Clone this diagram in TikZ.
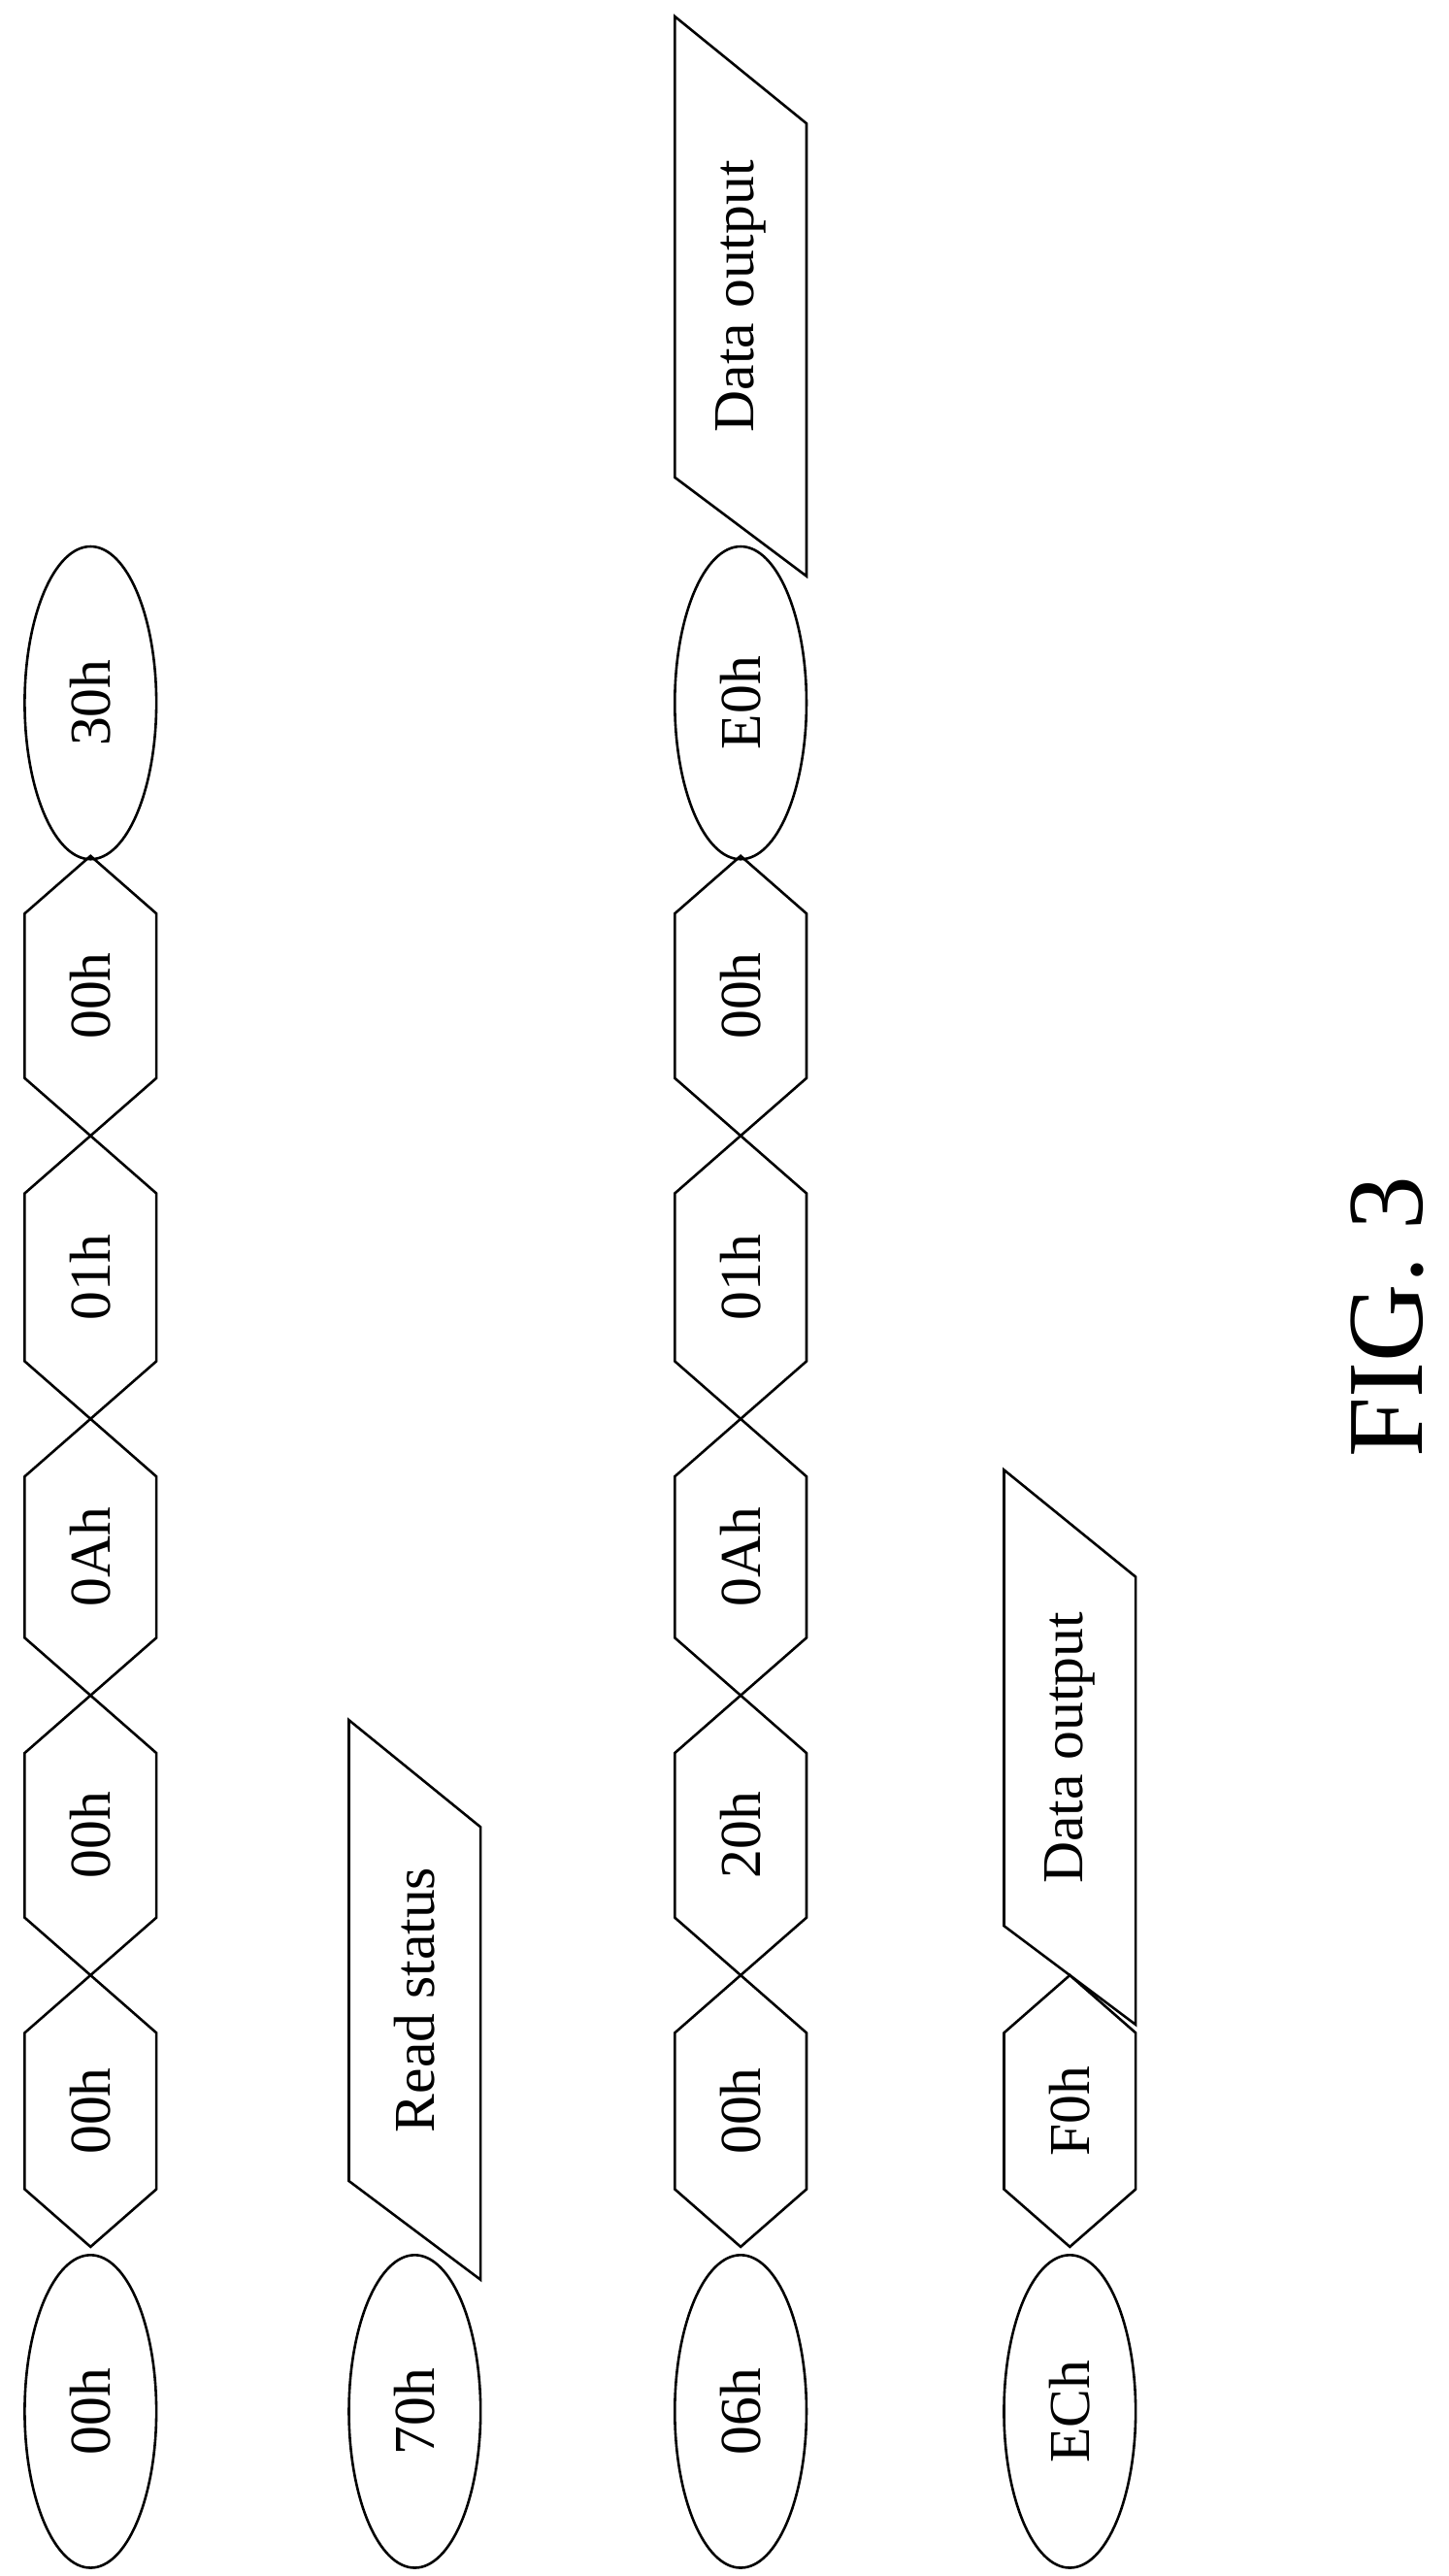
\documentclass[tikz,border=0pt]{standalone}
\usepackage{fontspec}
\setmainfont{Liberation Serif}
\usetikzlibrary{shapes.geometric}
\tikzset{
  cmd/.style={ellipse,draw,line width=1.3pt,rotate=90,minimum width=5.7cm,minimum height=2.4cm,inner sep=0pt,font=\fontsize{30}{36}\selectfont},
  lbl/.style={rotate=90,inner sep=0pt,font=\fontsize{30}{36}\selectfont},
  box/.style={line width=1.3pt},
}
\begin{document}
\begin{tikzpicture}[x=0.03cm,y=-0.03cm]
    \useasboundingbox (0,0) rectangle (880,1565);

    % Ellipses
    \node[cmd] (c00) at (55,1465)  {00h};
    \node[cmd] (c30) at (55,427)   {30h};
    \node[cmd] (c70) at (252,1465) {70h};
    \node[cmd] (c06) at (450,1465) {06h};
    \node[cmd] (cE0) at (450,427)  {E0h};
    \node[cmd] (cEC) at (650,1465) {ECh};

    % Hexagons (x centre, bottom point, top point, label)
    \foreach \cx/\yb/\yt/\txt/\nm in {55/1365/1200/00h/a1,55/1200/1030/00h/a2,55/1030/862/0Ah/a3,55/862/690/01h/a4,55/690/520/00h/a5,
        450/1365/1200/00h/b1,450/1200/1030/20h/b2,450/1030/862/0Ah/b3,450/862/690/01h/b4,450/690/520/00h/b5,
        650/1365/1200/F0h/d1}{
      \draw[box] (\cx,\yb) -- (\cx-40,\yb-35) -- (\cx-40,\yt+35) -- (\cx,\yt)
                 -- (\cx+40,\yt+35) -- (\cx+40,\yb-35) -- cycle;
      \node[lbl] (\nm) at (\cx,{(\yb+\yt)/2}) {\txt};
    }

    % Parallelograms
    \draw[box] (212,1045) -- (292,1110) -- (292,1385) -- (212,1325) -- cycle;
    \node[lbl] (rs) at (252,1215) {Read status};
    \draw[box] (410,10) -- (490,75) -- (490,350) -- (410,290) -- cycle;
    \node[lbl] (do1) at (450,180) {Data output};
    \draw[box] (610,893) -- (690,958) -- (690,1230) -- (610,1170) -- cycle;
    \node[lbl] (do2) at (650,1062) {Data output};

    % Caption
    \node[rotate=90,font=\fontsize{56}{60}\selectfont] (fig) at (843,800) {FIG. 3};
\end{tikzpicture}
\end{document}
